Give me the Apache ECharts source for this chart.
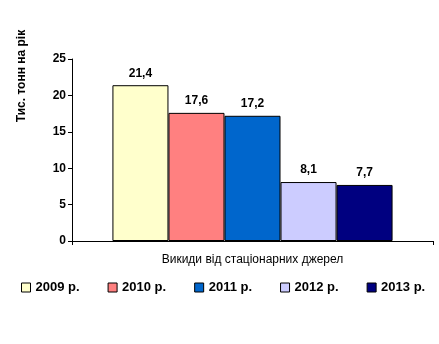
<!DOCTYPE html>
<html><head><meta charset="utf-8">
<script src="https://cdn.jsdelivr.net/npm/echarts@6/dist/echarts.min.js"></script>
<style>html,body{margin:0;padding:0;background:#fff}#c{width:439px;height:344px}</style>
</head><body><div id="c"></div>
<script>
var categories = ['Викиди від стаціонарних джерел'];
var years = ['2009 р.', '2010 р.', '2011 р.', '2012 р.', '2013 р.'];
var values = [21.4, 17.6, 17.2, 8.1, 7.7];
var yTicks = [0, 5, 10, 15, 20, 25];
var colors = ['#FFFFCC', '#FF8080', '#0066CC', '#CCCCFF', '#000080'];
var font = 'Arial, "Liberation Sans", sans-serif';

var series = years.map(function (y, i) {
  return {
    name: y, type: 'bar', data: [values[i]],
    barGap: '0%', barCategoryGap: '22.4%',
    itemStyle: { color: colors[i], borderColor: '#000', borderWidth: 1 },
    label: { show: true, position: 'top', distance: 6, color: '#000', fontFamily: font, fontWeight: 'bold', fontSize: 12,
      formatter: function (p) { return String(p.value).replace('.', ','); } }
  };
});

var chart = echarts.init(document.getElementById('c'));
chart.setOption({
  animation: false,
  grid: { left: 72, right: 6, top: 59, bottom: 103 },
  legend: {
    data: years, left: 16, top: 276, itemWidth: 9, itemHeight: 9, itemGap: 28,
    icon: 'rect', selectedMode: false,
    itemStyle: { borderColor: '#000', borderWidth: 1 },
    textStyle: { fontFamily: font, fontWeight: 'bold', fontSize: 13, color: '#000' }
  },
  graphic: [{
    type: 'text', x: 22, y: 76, rotation: Math.PI / 2,
    style: { text: 'Тис. тонн на рік', fontFamily: font, fontWeight: 'bold', fontSize: 12, fill: '#000', align: 'center', verticalAlign: 'middle' }
  }],
  xAxis: {
    type: 'category', data: categories,
    axisLine: { lineStyle: { color: '#000', width: 1 } },
    axisTick: { show: true, length: 4, lineStyle: { color: '#000' } },
    axisLabel: { color: '#000', fontFamily: font, fontSize: 12, margin: 13 }
  },
  yAxis: {
    type: 'value', min: yTicks[0], max: yTicks[yTicks.length - 1], interval: 5,
    axisLine: { show: true, lineStyle: { color: '#000', width: 1 } },
    axisTick: { show: true, length: 4, lineStyle: { color: '#000' } },
    splitLine: { show: false },
    axisLabel: { color: '#000', fontFamily: font, fontWeight: 'bold', fontSize: 12, margin: 6 }
  },
  series: series
});
</script></body></html>
